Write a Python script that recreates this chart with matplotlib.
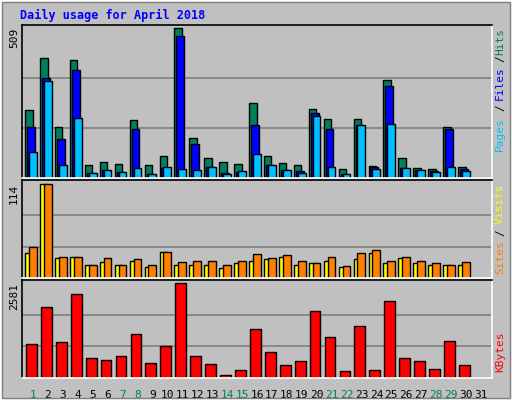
import matplotlib
matplotlib.use("Agg")
import matplotlib.pyplot as plt
from matplotlib.patches import Rectangle

days = list(range(1, 32))
hits  = [232,408,173,401,45,55,48,197,45,76,509,135,69,55,48,253,73,52,45,235,201,31,201,41,332,69,35,31,173,38,0]
files = [173,339,131,367,17,28,21,166,14,35,481,114,38,17,21,180,45,28,24,222,166,14,180,38,311,35,28,24,166,31,0]
pages = [87,329,45,204,17,28,21,35,14,38,31,28,38,14,24,80,45,28,17,211,38,14,180,31,183,35,28,21,38,24,0]
visits = [30,114,24,26,16,19,16,21,13,31,16,16,16,12,18,21,23,26,16,18,21,13,23,30,18,24,18,16,16,16,0]
sites  = [37,114,26,26,16,24,16,23,16,31,19,20,20,16,21,29,24,28,21,18,25,15,30,34,21,26,21,18,16,19,0]
kbytes = [914,1931,970,2298,546,490,603,1196,405,885,2581,603,377,94,207,1338,716,349,462,1818,1112,179,1422,207,2101,546,462,236,999,349,0]
weekend = [1,7,8,14,15,21,22,28,29]
title = "Daily usage for April 2018"

W, H = 512, 400
fig = plt.figure(figsize=(W/100, H/100), dpi=100, facecolor="#C0C0C0")
mono = "DejaVu Sans Mono"
fig.patches.append(Rectangle((0, 0), 1, 1, transform=fig.transFigure, fill=False, ec="white", lw=2))
fig.patches.append(Rectangle((0.004, 0.004), 0.992, 0.992, transform=fig.transFigure, fill=False, ec="#808080", lw=1))

def ax_at(x0, y0, x1, y1):
    a = fig.add_axes([x0/W, 1-y1/H, (x1-x0)/W, (y1-y0)/H])
    a.set_facecolor("#C0C0C0")
    a.set_xlim(0.26, 31.74)
    a.set_xticks([]); a.set_yticks([])
    for s in a.spines.values():
        s.set_color("black"); s.set_linewidth(1.2)
    a.spines["right"].set_color("white"); a.spines["bottom"].set_color("white")
    return a

ek = dict(edgecolor="black", linewidth=1)
a1 = ax_at(22, 25, 492, 178)
a1.set_ylim(0, 509*1.02)
for g in (509/3, 2*509/3):
    a1.axhline(g, color="#808080", lw=1.2, zorder=0)
a1.bar([d-0.53 for d in days], hits, width=0.5, align="edge", color="#007F5F", **ek)
a1.bar([d-0.40 for d in days], files, width=0.52, align="edge", color="#0000FF", **ek)
a1.bar([d-0.27 for d in days], pages, width=0.52, align="edge", color="#00BFFF", **ek)

a2 = ax_at(22, 180, 492, 278)
a2.set_ylim(0, 114*1.04)
for g in (114/3, 2*114/3):
    a2.axhline(g, color="#808080", lw=1.2, zorder=0)
a2.bar([d-0.53 for d in days], visits, width=0.5, align="edge", color="#FFFF00", **ek)
a2.bar([d-0.27 for d in days], sites, width=0.52, align="edge", color="#FF7F00", **ek)

a3 = ax_at(22, 280, 492, 378)
a3.set_ylim(0, 2581*1.035)
for g in (2581/3, 2*2581/3):
    a3.axhline(g, color="#808080", lw=1.2, zorder=0)
a3.bar([d-0.47 for d in days], kbytes, width=0.72, align="edge", color="#FF0000", **ek)

for d in days:
    a3.text(d, -0.12, str(d), transform=a3.get_xaxis_transform(), ha="center", va="top",
            fontsize=8, family=mono, color="#007F5F" if d in weekend else "black")

fig.text(20/W, 1-15/H, title, fontsize=8.5, family=mono, weight="bold", color="#0000FF", va="center")

def vt(x, ytop, s, c):
    fig.text(x/W, 1-ytop/H, s, rotation=90, va="top", ha="center", fontsize=8, family=mono, color=c)

vt(14, 28, "509", "black"); vt(14, 184, "114", "black"); vt(14, 283, "2581", "black")
vt(500, 28, "Hits", "#007F5F"); vt(500, 55, "/", "black"); vt(500, 66, "Files", "#0000FF")
vt(500, 104, "/", "black"); vt(500, 117, "Pages", "#00BFFF")
vt(500, 183, "Visits", "#FFFF00"); vt(500, 229, "/", "black"); vt(500, 240, "Sites", "#FF7F00")
vt(500, 332, "KBytes", "#FF0000")

fig.savefig("out.png", dpi=100, facecolor=fig.get_facecolor())
